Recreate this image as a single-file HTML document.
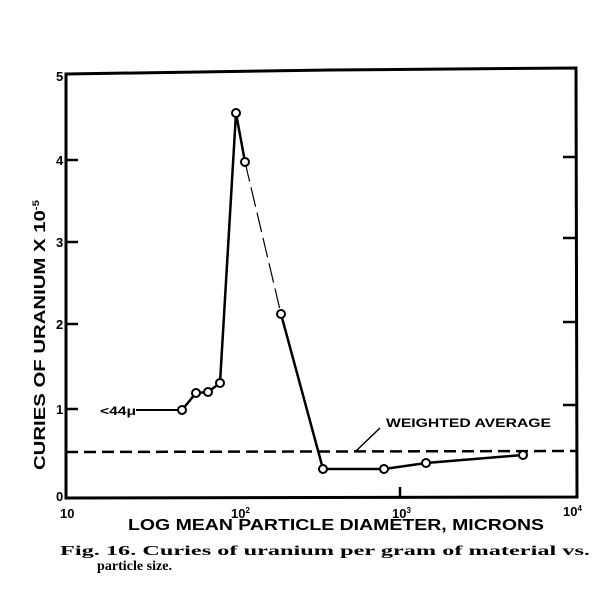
<!DOCTYPE html>
<html><head><style>
body{margin:0;background:#fff;width:612px;height:600px;overflow:hidden}
svg text{font-family:"Liberation Sans",sans-serif;font-weight:bold;fill:#000}
</style></head><body>
<svg width="612" height="600" viewBox="0 0 612 600" xmlns="http://www.w3.org/2000/svg">
<g stroke="#000" fill="none">
<path d="M66 74 L330 70 L576 68 L577 497 L66 498 Z" stroke-width="3"/>
<g stroke-width="2.5">
<line x1="66" y1="409" x2="78" y2="409"/><line x1="66" y1="324" x2="78" y2="324"/>
<line x1="66" y1="242" x2="78" y2="242"/><line x1="66" y1="160" x2="78" y2="160"/>
<line x1="563" y1="405" x2="576" y2="405"/><line x1="563" y1="322" x2="576" y2="322"/>
<line x1="563" y1="238" x2="576" y2="238"/><line x1="563" y1="157" x2="576" y2="157"/>
<line x1="400" y1="487" x2="400" y2="497"/>
</g>
<line x1="66" y1="452" x2="576" y2="451" stroke-width="2.5" stroke-dasharray="12,6"/>
<polyline points="182,410 196,393 208,392 220,383 236,113 245,162" stroke-width="2.5"/>
<polyline points="245,162 281,314" stroke-width="1.2" stroke-dasharray="20,6"/>
<polyline points="281,314 323,469 384,469 426,463 523,455" stroke-width="2.5"/>
<line x1="136" y1="410" x2="178" y2="410" stroke-width="2"/>
<line x1="380" y1="428" x2="355" y2="452" stroke-width="1.5"/>
<g fill="#fff" stroke-width="2">
<circle cx="182" cy="410" r="4"/><circle cx="196" cy="393" r="4"/><circle cx="208" cy="392" r="4"/>
<circle cx="220" cy="383" r="4"/><circle cx="236" cy="113" r="4"/><circle cx="245" cy="162" r="4"/>
<circle cx="281" cy="314" r="4"/><circle cx="323" cy="469" r="4"/><circle cx="384" cy="469" r="4"/>
<circle cx="426" cy="463" r="4"/><circle cx="523" cy="455" r="4"/>
</g>
</g>
<g font-size="13">
<text x="56" y="501">0</text><text x="56" y="414">1</text><text x="56" y="329">2</text>
<text x="56" y="247">3</text><text x="56" y="165">4</text><text x="56" y="81">5</text>
<text x="60" y="518">10</text><text x="231" y="518">10<tspan font-size="8" dy="-5">2</tspan></text>
<text x="392" y="518">10<tspan font-size="8" dy="-5">3</tspan></text>
<text x="563" y="516">10<tspan font-size="8" dy="-5">4</tspan></text>
</g>
<text x="100" y="415" font-size="12" textLength="36" lengthAdjust="spacingAndGlyphs">&lt;44μ</text>
<text x="386" y="427" font-size="12" textLength="165" lengthAdjust="spacingAndGlyphs">WEIGHTED AVERAGE</text>
<text transform="translate(45,470) rotate(-90)" font-size="16" textLength="270" lengthAdjust="spacingAndGlyphs">CURIES OF URANIUM X 10<tspan font-size="9" dy="-6">-5</tspan></text>
<text x="128" y="530" font-size="16" textLength="416" lengthAdjust="spacingAndGlyphs">LOG MEAN PARTICLE DIAMETER, MICRONS</text>
<text x="60" y="555" font-size="14" style="font-family:'Liberation Serif',serif" textLength="530" lengthAdjust="spacingAndGlyphs">Fig. 16.  Curies of uranium per gram of material vs.</text>
<text x="97" y="570" font-size="14" style="font-family:'Liberation Serif',serif" textLength="75" lengthAdjust="spacingAndGlyphs">particle size.</text>
</svg>
</body></html>
